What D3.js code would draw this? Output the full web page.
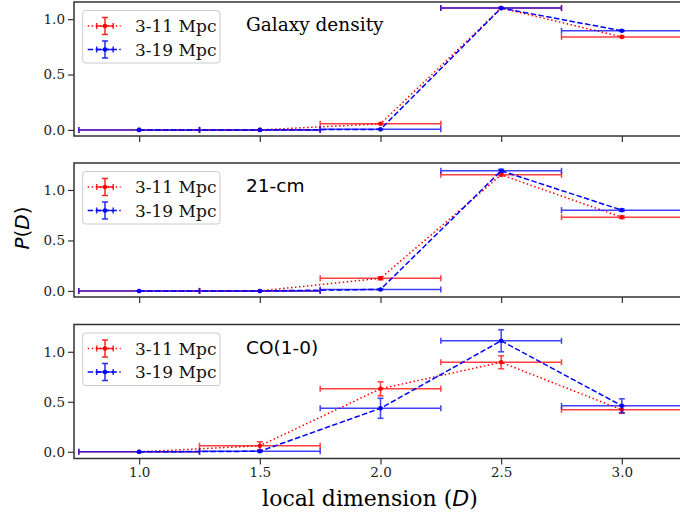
<!DOCTYPE html>
<html>
<head>
<meta charset="utf-8">
<script src="https://cdn.jsdelivr.net/npm/d3@7"></script>
<style>
  body { margin: 0; background: #fff; }
  svg { display: block; }
</style>
</head>
<body>
<div id="chart"></div>
<script>
// local dimension bins, same for all panels
let dims = [1.0, 1.5, 2.0, 2.5, 3.0]
let dimHalfWidth = 0.25

let seriesNames = ["3-11 Mpc", "3-19 Mpc"]
let panelTitles = ["Galaxy density", "21-cm", "CO(1-0)"]

// P(D), one pair of arrays per panel
let galaxy311 = [0, 0, 0.055, 1.10, 0.84]
let galaxy311Err = [0, 0, 0.005, 0.005, 0.005]
let galaxy319 = [0, 0, 0.005, 1.10, 0.895]
let galaxy319Err = [0, 0, 0.003, 0.005, 0.005]

let hi311 = [0, 0, 0.125, 1.15, 0.73]
let hi311Err = [0, 0, 0.015, 0.01, 0.012]
let hi319 = [0, 0, 0.015, 1.19, 0.80]
let hi319Err = [0, 0, 0.005, 0.015, 0.01]

let co311 = [0, 0.06, 0.63, 0.895, 0.42]
let co311Err = [0, 0.04, 0.07, 0.065, 0.035]
let co319 = [0, 0.005, 0.435, 1.11, 0.46]
let co319Err = [0, 0.005, 0.10, 0.11, 0.07]

let xTicks = [1.0, 1.5, 2.0, 2.5, 3.0]
let yTicks = [0.0, 0.5, 1.0]

let panels = [
  {title: panelTitles[0], serif: true, top: 2, bottom: 136, ydom: [-0.055, 1.155],
   series: [[galaxy311, galaxy311Err], [galaxy319, galaxy319Err]]},
  {title: panelTitles[1], serif: false, top: 163, bottom: 297, ydom: [-0.06, 1.267],
   series: [[hi311, hi311Err], [hi319, hi319Err]]},
  {title: panelTitles[2], serif: false, top: 324.5, bottom: 458.5, ydom: [-0.067, 1.273],
   series: [[co311, co311Err], [co319, co319Err]]}
]

let colors = ["#ff0000", "#0000ff"]
let dashes = ["1.5,2.5", "5.5,2.4"]
let serif = "'DejaVu Serif', serif"
let sans = "'DejaVu Sans', sans-serif"

let W = 680, H = 519
let left = 74, right = 687

let svg = d3.select("#chart")
  .append("svg")
  .attr("width", W)
  .attr("height", H)

let x = d3.scaleLinear().domain([0.73, 3.27]).range([left, right])

panels.forEach((p, pi) => {
  let y = d3.scaleLinear().domain(p.ydom).range([p.bottom, p.top])
  let g = svg.append("g")

  // series: red first, blue on top
  p.series.forEach((s, si) => {
    let vals = s[0], errs = s[1]
    let pts = dims.map((d, i) => ({x: d, y: vals[i], e: errs[i]}))
    let c = colors[si]
    let sg = g.append("g")

    sg.append("path")
      .datum(pts)
      .attr("fill", "none")
      .attr("stroke", c)
      .attr("stroke-width", 1.5)
      .attr("stroke-dasharray", dashes[si])
      .attr("d", d3.line().x(d => x(d.x)).y(d => y(d.y)))

    let eb = sg.append("g").attr("stroke", c).attr("stroke-width", 1.5).attr("opacity", 0.75)
    // horizontal bars with caps
    eb.selectAll(".xbar").data(pts).enter().append("line")
      .attr("x1", d => x(d.x - dimHalfWidth)).attr("x2", d => x(d.x + dimHalfWidth))
      .attr("y1", d => y(d.y)).attr("y2", d => y(d.y))
    eb.selectAll(".xcapl").data(pts).enter().append("line")
      .attr("x1", d => x(d.x - dimHalfWidth)).attr("x2", d => x(d.x - dimHalfWidth))
      .attr("y1", d => y(d.y) - 3).attr("y2", d => y(d.y) + 3)
    eb.selectAll(".xcapr").data(pts).enter().append("line")
      .attr("x1", d => x(d.x + dimHalfWidth)).attr("x2", d => x(d.x + dimHalfWidth))
      .attr("y1", d => y(d.y) - 3).attr("y2", d => y(d.y) + 3)
    // vertical bars with caps
    eb.selectAll(".ybar").data(pts).enter().append("line")
      .attr("x1", d => x(d.x)).attr("x2", d => x(d.x))
      .attr("y1", d => y(d.y - d.e)).attr("y2", d => y(d.y + d.e))
    eb.selectAll(".ycapt").data(pts).enter().append("line")
      .attr("x1", d => x(d.x) - 3).attr("x2", d => x(d.x) + 3)
      .attr("y1", d => y(d.y + d.e)).attr("y2", d => y(d.y + d.e))
    eb.selectAll(".ycapb").data(pts).enter().append("line")
      .attr("x1", d => x(d.x) - 3).attr("x2", d => x(d.x) + 3)
      .attr("y1", d => y(d.y - d.e)).attr("y2", d => y(d.y - d.e))

    sg.selectAll("circle").data(pts).enter().append("circle")
      .attr("cx", d => x(d.x)).attr("cy", d => y(d.y))
      .attr("r", 2.3).attr("fill", c)
  })

  // axes
  let ya = g.append("g")
    .attr("transform", `translate(${left},0)`)
    .call(d3.axisLeft(y).tickValues(yTicks).tickFormat(d3.format(".1f")).tickSize(6).tickPadding(3))
  let xa = g.append("g")
    .attr("transform", `translate(0,${p.bottom})`)
    .call(d3.axisBottom(x).tickValues(xTicks).tickFormat(d3.format(".1f")).tickSize(6).tickPadding(3))
  if (pi < 2) xa.selectAll("text").remove()
  ;[ya, xa].forEach(a => {
    a.select(".domain").remove()
    a.selectAll("line").attr("stroke", "#333").attr("stroke-width", 1.2)
    a.selectAll("text").attr("font-family", serif).attr("font-size", 13.5).attr("fill", "#222")
  })

  // frame
  g.append("rect")
    .attr("x", left).attr("y", p.top)
    .attr("width", right - left).attr("height", p.bottom - p.top)
    .attr("fill", "none").attr("stroke", "#333").attr("stroke-width", 1.5)

  // legend
  let lx = 82.7, ly = p.top + 8.5
  let lg = g.append("g").attr("transform", `translate(${lx},${ly})`)
  lg.append("rect")
    .attr("width", 137.3).attr("height", 52.5).attr("rx", 3)
    .attr("fill", "#fff").attr("fill-opacity", 0.8)
    .attr("stroke", "#ccc").attr("stroke-width", 1)
  seriesNames.forEach((name, si) => {
    let cy = 15.5 + si * 23.5
    let c = colors[si]
    let e = lg.append("g")
    e.append("line").attr("x1", 5).attr("x2", 38).attr("y1", cy).attr("y2", cy)
      .attr("stroke", c).attr("stroke-width", 1.5).attr("stroke-dasharray", dashes[si])
    let hb = e.append("g").attr("stroke", c).attr("stroke-width", 1.5).attr("opacity", 0.85)
    hb.append("line").attr("x1", 14).attr("x2", 30.5).attr("y1", cy).attr("y2", cy)
    hb.append("line").attr("x1", 14).attr("x2", 14).attr("y1", cy - 3).attr("y2", cy + 3)
    hb.append("line").attr("x1", 30.5).attr("x2", 30.5).attr("y1", cy - 3).attr("y2", cy + 3)
    hb.append("line").attr("x1", 22.3).attr("x2", 22.3).attr("y1", cy - 8.5).attr("y2", cy + 8.5)
    hb.append("line").attr("x1", 19.3).attr("x2", 25.3).attr("y1", cy - 8.5).attr("y2", cy - 8.5)
    hb.append("line").attr("x1", 19.3).attr("x2", 25.3).attr("y1", cy + 8.5).attr("y2", cy + 8.5)
    e.append("circle").attr("cx", 22.3).attr("cy", cy).attr("r", 2.3).attr("fill", c)
    e.append("text").attr("x", 52.3).attr("y", cy).attr("dy", "0.36em")
      .attr("font-family", serif).attr("font-size", 17).attr("fill", "#111")
      .text(name)
  })

  // panel title
  g.append("text")
    .attr("x", 246).attr("y", p.top + 29)
    .attr("font-family", p.serif ? serif : sans).attr("font-size", 18.5).attr("fill", "#000")
    .text(p.title)
})

// axis labels
let yl = svg.append("text")
  .attr("transform", "translate(29,228) rotate(-90)")
  .attr("text-anchor", "middle")
  .attr("font-family", sans).attr("font-size", 20).attr("fill", "#000")
yl.append("tspan").attr("font-style", "italic").text("P")
yl.append("tspan").text("(")
yl.append("tspan").attr("font-style", "italic").text("D")
yl.append("tspan").text(")")

let xl = svg.append("text")
  .attr("x", 370).attr("y", 506)
  .attr("text-anchor", "middle")
  .attr("font-family", serif).attr("font-size", 22).attr("fill", "#000")
xl.append("tspan").text("local dimension (")
xl.append("tspan").attr("font-family", sans).attr("font-style", "italic").text("D")
xl.append("tspan").text(")")
</script>
</body>
</html>
